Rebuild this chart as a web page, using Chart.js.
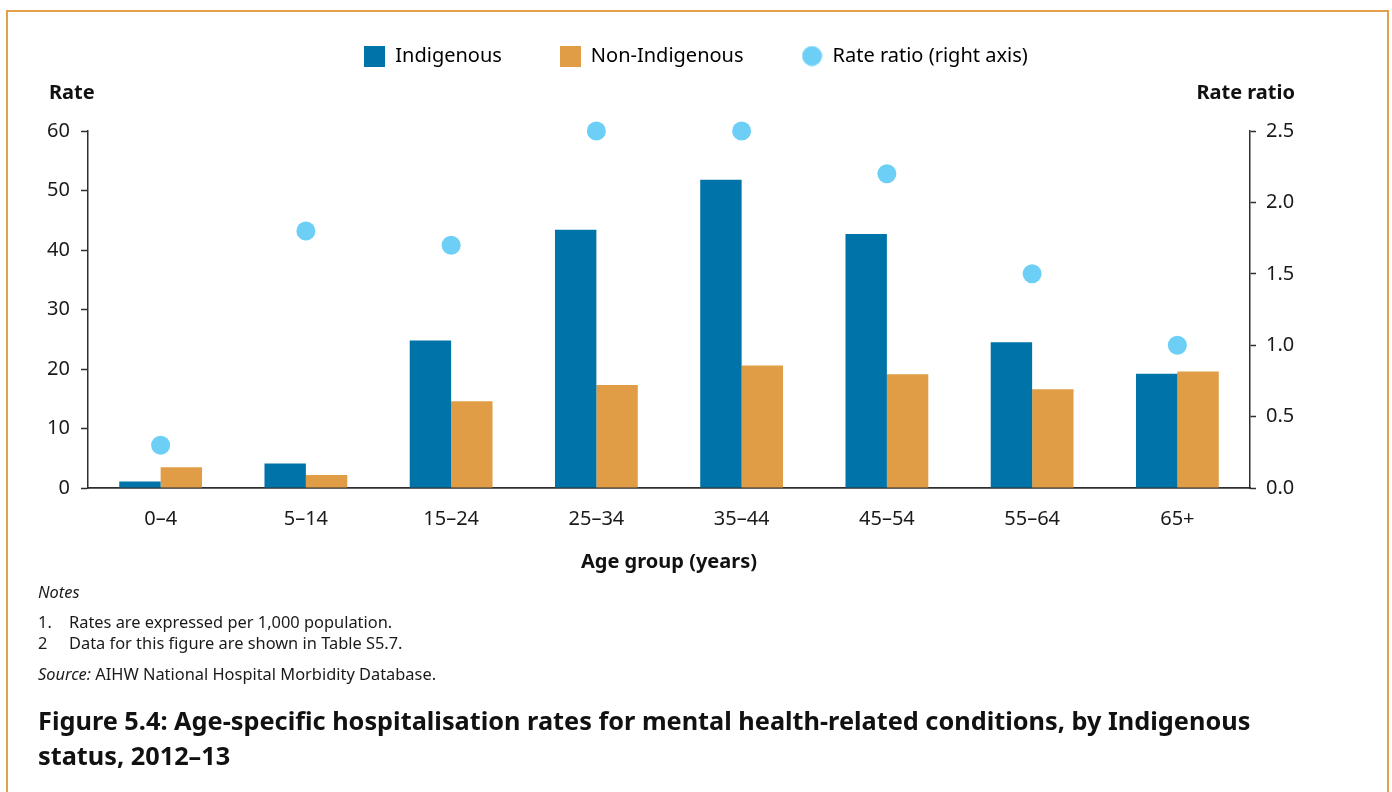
<!DOCTYPE html>
<html>
<head>
<meta charset="utf-8">
<script src="https://cdn.jsdelivr.net/npm/chart.js@4.4.0/dist/chart.umd.min.js"></script>
<style>
  html, body { margin: 0; padding: 0; background: #fff; }
  body { width: 1392px; height: 792px; position: relative; overflow: hidden; font-family: "Noto Sans", sans-serif; color: #1a1a1a; }
  #frame { position: absolute; left: 6px; top: 10px; width: 1379px; height: 900px; border: 2px solid #e2a04e; border-bottom: none; pointer-events: none; }
  #chart { position: absolute; left: 0; top: 0; }
  .note { position: absolute; left: 38px; font-size: 16.4px; line-height: 20px; white-space: nowrap; }
  .note .num { display: inline-block; width: 31px; }
  .fig-title { position: absolute; left: 38px; top: 703px; font-size: 25.3px; line-height: 35px; font-weight: bold; color: #111; white-space: nowrap; }
</style>
</head>
<body>
<canvas id="chart" width="1392" height="580"></canvas>
<div id="frame"></div>

<div class="note" style="top:582px"><i>Notes</i></div>
<div class="note" style="top:612px"><span class="num">1.</span>Rates are expressed per 1,000 population.</div>
<div class="note" style="top:633px"><span class="num">2</span>Data for this figure are shown in Table S5.7.</div>
<div class="note" style="top:664px"><i>Source:</i> AIHW National Hospital Morbidity Database.</div>
<div class="fig-title">Figure 5.4: Age-specific hospitalisation rates for mental health-related conditions, by Indigenous<br>status, 2012–13</div>

<script>
// 年齢区分
const ageGroups = ['0–4', '5–14', '15–24', '25–34', '35–44', '45–54', '55–64', '65+'];
// 入院率 (1,000人あたり)
const indigenousRates = [1.1, 4.1, 24.8, 43.4, 51.8, 42.7, 24.5, 19.2];
const nonIndigenousRates = [3.5, 2.2, 14.6, 17.3, 20.6, 19.1, 16.6, 19.6];
// 率比 (右軸)
const rateRatios = [0.3, 1.8, 1.7, 2.5, 2.5, 2.2, 1.5, 1.0];
// 目盛
const rateTicks = [0, 10, 20, 30, 40, 50, 60];
const ratioTicks = [0, 0.5, 1.0, 1.5, 2.0, 2.5];

const BLUE = '#0073a8';
const ORANGE = '#e09d45';
const SKY = '#6dcff6';
const AXIS = '#2e2e2e';
const FONT = '"Noto Sans", sans-serif';

// 凡例アイコン用の小さいキャンバス
function makeIcon(color, round) {
    let c = document.createElement('canvas');
    c.width = 21;
    c.height = 21;
    let g = c.getContext('2d');
    g.fillStyle = color;
    if (round) {
        g.beginPath();
        g.arc(10.5, 10.5, 10, 0, Math.PI * 2);
        g.fill();
    } else {
        g.fillRect(0, 0, 21, 21);
    }
    return c;
}
const legendIcons = [makeIcon(BLUE, false), makeIcon(ORANGE, false), makeIcon(SKY, true)];

// 軸タイトル (横書き) を描くプラグイン
const axisHeadings = {
    id: 'axisHeadings',
    afterDraw(chart) {
        let ctx = chart.ctx;
        let area = chart.chartArea;
        ctx.save();
        ctx.font = 'bold 20px ' + FONT;
        ctx.fillStyle = '#111';
        ctx.textBaseline = 'middle';
        ctx.textAlign = 'left';
        ctx.fillText('Rate', area.left - 39, area.top - 38);
        ctx.textAlign = 'right';
        ctx.fillText('Rate ratio', area.right + 45, area.top - 38);
        ctx.restore();
    }
};

function tickList(list) {
    return function(scale) {
        scale.ticks = list.map(v => ({ value: v }));
    };
}

new Chart(document.getElementById('chart'), {
    type: 'bar',
    data: {
        labels: ageGroups,
        datasets: [
            { label: 'Indigenous', data: indigenousRates, backgroundColor: BLUE, yAxisID: 'y', order: 2 },
            { label: 'Non-Indigenous', data: nonIndigenousRates, backgroundColor: ORANGE, yAxisID: 'y', order: 2 },
            {
                type: 'line', label: 'Rate ratio (right axis)', data: rateRatios, yAxisID: 'y1', order: 1,
                showLine: false, clip: false, pointRadius: 9.5, pointHoverRadius: 9.5,
                pointBackgroundColor: SKY, pointBorderWidth: 0, backgroundColor: SKY, borderColor: SKY
            }
        ]
    },
    options: {
        responsive: false,
        animation: false,
        devicePixelRatio: 1,
        layout: { padding: { top: -12, left: 0, right: 0, bottom: 0 } },
        datasets: { bar: { categoryPercentage: 0.57, barPercentage: 1.0 } },
        plugins: {
            tooltip: { enabled: false },
            legend: {
                weight: 3000,
                labels: {
                    usePointStyle: true,
                    pointStyleWidth: 21,
                    padding: 58,
                    color: '#1a1a1a',
                    font: { family: FONT, size: 20 },
                    generateLabels: function(chart) {
                        return chart.data.datasets.map(function(ds, i) {
                            return { text: ds.label, pointStyle: legendIcons[i], datasetIndex: i, lineWidth: 0, fillStyle: ds.backgroundColor, strokeStyle: ds.backgroundColor, hidden: false };
                        });
                    }
                }
            },
            // 凡例とグラフの間の余白
            subtitle: { display: true, text: ' ', font: { size: 1, lineHeight: 1 }, padding: { top: 2, bottom: 52 } }
        },
        scales: {
            x: {
                grid: { display: false },
                border: { display: true, color: AXIS, width: 1.8 },
                ticks: { padding: 11, color: '#1a1a1a', font: { family: FONT, size: 20, lineHeight: 1.2 } },
                title: { display: true, text: 'Age group (years)', color: '#111', font: { family: FONT, size: 20, weight: 'bold', lineHeight: 1.2 }, padding: { top: 0, bottom: 6 } },
                afterFit: function(scale) { scale.height = 92; }
            },
            y: {
                position: 'left',
                min: 0,
                max: 60,
                afterBuildTicks: tickList(rateTicks),
                grid: { display: true, drawOnChartArea: false, drawTicks: true, tickLength: 7, tickColor: AXIS, tickWidth: 1.5 },
                border: { display: true, color: AXIS, width: 1.5 },
                ticks: { padding: 11, color: '#1a1a1a', font: { family: FONT, size: 20 } },
                afterFit: function(scale) { scale.width = 88; }
            },
            y1: {
                position: 'right',
                min: 0,
                max: 2.5,
                afterBuildTicks: tickList(ratioTicks),
                grid: { display: true, drawOnChartArea: false, drawTicks: true, tickLength: 6, tickColor: AXIS, tickWidth: 1.5 },
                border: { display: true, color: AXIS, width: 1.5 },
                ticks: { padding: 10, color: '#1a1a1a', font: { family: FONT, size: 20 }, callback: v => v.toFixed(1) },
                afterFit: function(scale) { scale.width = 142; }
            }
        }
    },
    plugins: [axisHeadings]
});
</script>
</body>
</html>
